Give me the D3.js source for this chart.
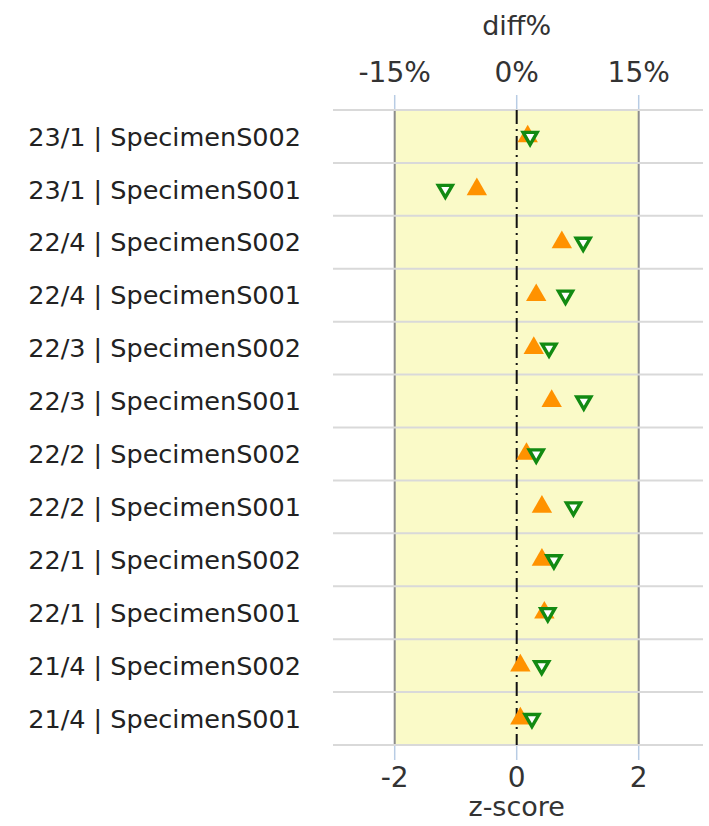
<!DOCTYPE html>
<html>
<head>
<meta charset="utf-8">
<script src="https://cdn.jsdelivr.net/npm/d3@7"></script>
<style>
  body { margin: 0; background: #fff; }
  svg { display: block; font-family: "DejaVu Sans", sans-serif; }
</style>
</head>
<body>
<div id="chart"></div>
<script>
const width = 709;
const height = 826;

// rows, top to bottom
const labels = [
  "23/1 | SpecimenS002", "23/1 | SpecimenS001",
  "22/4 | SpecimenS002", "22/4 | SpecimenS001",
  "22/3 | SpecimenS002", "22/3 | SpecimenS001",
  "22/2 | SpecimenS002", "22/2 | SpecimenS001",
  "22/1 | SpecimenS002", "22/1 | SpecimenS001",
  "21/4 | SpecimenS002", "21/4 | SpecimenS001"
];
// orange up triangles, diff%
const diffPct = [1.35, -4.9, 5.55, 2.4, 2.1, 4.3, 1.2, 3.1, 3.1, 3.4, 0.45, 0.45];
// green down triangles, z-score
const zScore = [0.22, -1.17, 1.09, 0.80, 0.53, 1.10, 0.32, 0.93, 0.61, 0.51, 0.41, 0.25];

const zTicks = [-2, 0, 2];
const pctTicks = [-15, 0, 15];

const plotTop = 110, plotBottom = 745;
const plotLeft = 333, plotRight = 703;

const x = d3.scaleLinear().domain([-3, 3]).range([333.7, 699.7]);
const xPct = d3.scaleLinear().domain([-22.5, 22.5]).range([333.7, 699.7]);
const y = d3.scaleBand().domain(labels).range([plotTop, plotBottom]);

const svg = d3.select("#chart").append("svg")
  .attr("width", width)
  .attr("height", height);

// tolerance band -2..2
svg.append("rect")
  .attr("x", x(-2))
  .attr("y", plotTop)
  .attr("width", x(2) - x(-2))
  .attr("height", plotBottom - plotTop)
  .attr("fill", "#fafac8");

svg.selectAll("line.band-edge")
  .data([-2, 2])
  .join("line")
  .attr("class", "band-edge")
  .attr("x1", d => x(d)).attr("x2", d => x(d))
  .attr("y1", plotTop).attr("y2", plotBottom)
  .attr("stroke", "#8c8c8c")
  .attr("stroke-width", 2);

// row separators
const seps = labels.map(d => y(d)).concat([plotBottom]);
svg.selectAll("line.sep")
  .data(seps)
  .join("line")
  .attr("class", "sep")
  .attr("x1", plotLeft).attr("x2", plotRight)
  .attr("y1", d => d).attr("y2", d => d)
  .attr("stroke", "#d9d9d9")
  .attr("stroke-width", 2);

// zero line
svg.append("line")
  .attr("x1", x(0)).attr("x2", x(0))
  .attr("y1", plotTop).attr("y2", plotBottom)
  .attr("stroke", "#111")
  .attr("stroke-width", 2)
  .attr("stroke-dasharray", "14,5,2,5");

// ticks
svg.selectAll("line.top-tick")
  .data(pctTicks)
  .join("line")
  .attr("class", "top-tick")
  .attr("x1", d => xPct(d)).attr("x2", d => xPct(d))
  .attr("y1", 95).attr("y2", plotTop - 1)
  .attr("stroke", "#b8cce4")
  .attr("stroke-width", 1.5);

svg.selectAll("line.bot-tick")
  .data(zTicks)
  .join("line")
  .attr("class", "bot-tick")
  .attr("x1", d => x(d)).attr("x2", d => x(d))
  .attr("y1", plotBottom + 1).attr("y2", 760)
  .attr("stroke", "#b8cce4")
  .attr("stroke-width", 1.5);

svg.selectAll("text.top-label")
  .data(pctTicks)
  .join("text")
  .attr("class", "top-label")
  .attr("x", d => xPct(d))
  .attr("y", 82)
  .attr("text-anchor", "middle")
  .attr("font-size", 28)
  .attr("fill", "#333")
  .text(d => d + "%");

svg.selectAll("text.bot-label")
  .data(zTicks)
  .join("text")
  .attr("class", "bot-label")
  .attr("x", d => x(d))
  .attr("y", 787)
  .attr("text-anchor", "middle")
  .attr("font-size", 28)
  .attr("fill", "#333")
  .text(d => d);

svg.append("text")
  .attr("x", x(0)).attr("y", 35)
  .attr("text-anchor", "middle")
  .attr("font-size", 27)
  .attr("fill", "#333")
  .text("diff%");

svg.append("text")
  .attr("x", x(0)).attr("y", 816)
  .attr("text-anchor", "middle")
  .attr("font-size", 27)
  .attr("fill", "#333")
  .text("z-score");

// row labels
svg.selectAll("text.row")
  .data(labels)
  .join("text")
  .attr("class", "row")
  .attr("x", 301)
  .attr("y", d => y(d) + y.bandwidth() / 2)
  .attr("dy", "0.36em")
  .attr("text-anchor", "end")
  .attr("font-size", 25.5)
  .attr("fill", "#222")
  .text(d => d);

// markers
const up = d3.symbol().type(d3.symbolTriangle).size(180);
const down = d3.symbol().type(d3.symbolTriangle).size(85);

svg.selectAll("path.diff")
  .data(labels)
  .join("path")
  .attr("class", "diff")
  .attr("d", up)
  .attr("transform", (d, i) => `translate(${xPct(diffPct[i])},${y(d) + y.bandwidth() / 2})`)
  .attr("fill", "#ff9200");

svg.selectAll("path.z")
  .data(labels)
  .join("path")
  .attr("class", "z")
  .attr("d", down)
  .attr("transform", (d, i) => `translate(${x(zScore[i])},${y(d) + y.bandwidth() / 2}) rotate(180)`)
  .attr("fill", "#fff")
  .attr("stroke", "#128a12")
  .attr("stroke-width", 3.4);
</script>
</body>
</html>
